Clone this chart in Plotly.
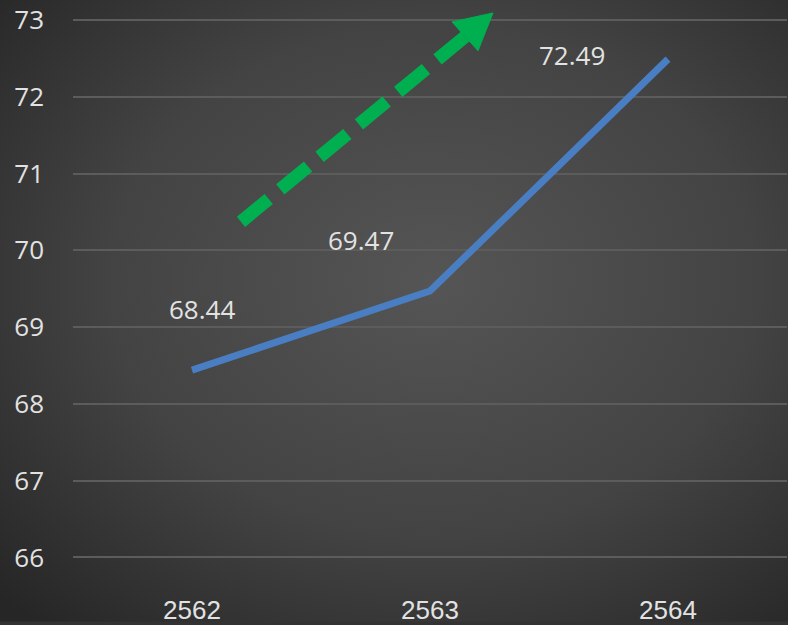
import base64
import plotly.graph_objects as go

years = ["2562", "2563", "2564"]
values = [68.44, 69.47, 72.49]
y_ticks = [66, 67, 68, 69, 70, 71, 72, 73]

# label offsets in pixels (dx, dy) relative to each point
label_shift = [(10, 61), (-69, 51), (-96, 4)]

W, H = 788, 625
ML, MR, MT, MB = 73, 1, 0, 30
PW, PH = W - ML - MR, H - MT - MB

def px(x):
    return (x - ML) / PW

def py(y):
    return 1 - (y - MT) / PH

svg = f'''<svg xmlns="http://www.w3.org/2000/svg" width="{W}" height="{H}" viewBox="0 0 {W} {H}">
<defs><radialGradient id="g" cx="0.55" cy="0.45" r="0.75">
<stop offset="0" stop-color="#555555"/>
<stop offset="0.55" stop-color="#434343"/>
<stop offset="1" stop-color="#262626"/>
</radialGradient></defs>
<rect width="{W}" height="{H}" fill="url(#g)"/></svg>'''
bg = "data:image/svg+xml;base64," + base64.b64encode(svg.encode()).decode()

fig = go.Figure()
fig.add_trace(go.Scatter(
    x=list(range(len(years))), y=values, mode="lines",
    line=dict(color="#4a7ec3", width=7), hoverinfo="skip", showlegend=False,
))

for i, (v, (dx, dy)) in enumerate(zip(values, label_shift)):
    fig.add_annotation(x=i, y=v, text=f"{v:.2f}", showarrow=False,
                       xshift=dx, yshift=dy,
                       font=dict(family="Open Sans, sans-serif", size=26, color="#e2e2e2"))

green = "#00b050"
fig.add_shape(type="line", xref="paper", yref="paper",
              x0=px(241), y0=py(223), x1=px(466), y1=py(36),
              line=dict(color=green, width=13, dash="36px,15px"))
fig.add_shape(type="path", xref="paper", yref="paper",
              path=f"M {px(493)} {py(13)} L {px(452)} {py(22)} L {px(478)} {py(51)} Z",
              fillcolor=green, line=dict(color=green, width=1))

fig.add_layout_image(dict(source=bg, xref="paper", yref="paper",
                          x=-ML / PW, y=1 + MT / PH, sizex=W / PW, sizey=H / PH,
                          xanchor="left", yanchor="top", sizing="stretch", layer="below"))

fig.update_layout(
    width=W, height=H, margin=dict(l=ML, r=MR, t=MT, b=MB),
    paper_bgcolor="#333333", plot_bgcolor="rgba(0,0,0,0)",
    xaxis=dict(tickmode="array", tickvals=list(range(len(years))), ticktext=years,
               range=[-0.5, 2.5], showgrid=False, zeroline=False, showline=False,
               tickfont=dict(family="Liberation Sans, Arial, sans-serif",
                             size=26, color="#e2e2e2"),
               ticks="", ticklabelstandoff=0),
    yaxis=dict(range=[65.55, 73.26], tickvals=y_ticks, showgrid=True,
               gridcolor="#5c5c5c", gridwidth=2, zeroline=False, showline=False,
               tickfont=dict(family="Open Sans, sans-serif", size=26, color="#e2e2e2"),
               ticks="", ticklabelstandoff=28),
    showlegend=False,
)

fig.write_html("out.html", config={"displayModeBar": False},
               post_script="document.body.style.margin='0';document.body.style.overflow='hidden';")
